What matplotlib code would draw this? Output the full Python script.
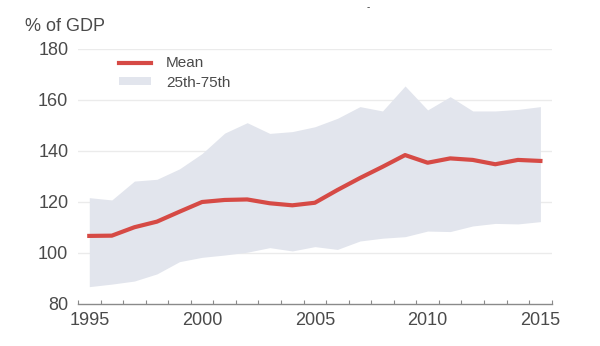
import matplotlib as mpl
import matplotlib.pyplot as plt
from matplotlib.patches import Patch
from matplotlib.lines import Line2D

mpl.rcParams['font.family'] = ['Liberation Sans', 'DejaVu Sans']

years = list(range(1995, 2016))
mean = [106.7, 106.8, 110.1, 112.3, 116.2, 120.0, 120.8, 121.0, 119.5, 118.7,
        119.7, 124.7, 129.4, 133.8, 138.4, 135.4, 137.1, 136.5, 134.8, 136.5, 136.1]
p75 = [121.7, 120.8, 128.2, 128.9, 133.0, 139.0, 147.0, 151.1, 146.9, 147.6,
       149.5, 152.8, 157.4, 155.7, 165.5, 156.1, 161.3, 155.7, 155.7, 156.3, 157.4]
p25 = [86.8, 87.8, 89.0, 91.8, 96.6, 98.3, 99.2, 100.3, 102.1, 100.8,
       102.5, 101.4, 104.7, 105.8, 106.4, 108.6, 108.4, 110.6, 111.6, 111.4, 112.3]
xticks = [1995, 2000, 2005, 2010, 2015]
yticks = [80, 100, 120, 140, 160, 180]

red = '#d64a45'
band = '#e2e5ed'
txt = '#4a4a4a'

fig = plt.figure(figsize=(6, 3.46), dpi=100)
ax = fig.add_axes([0.13, 0.1214, 0.7895, 0.737])

ax.fill_between(years, p25, p75, color=band, linewidth=0, zorder=1)
ax.plot(years, mean, color=red, linewidth=3, solid_joinstyle='round', zorder=3)

ax.set_xlim(1994.5, 2015.5)
ax.set_ylim(80, 180)
ax.set_xticks(xticks)
ax.set_xticks([y + 0.5 for y in range(1994, 2016)], minor=True)
ax.set_yticks(yticks)

for g in yticks[1:]:
    ax.axhline(g, color='#ebebeb', linewidth=1, zorder=0)

for s in ['top', 'right', 'left']:
    ax.spines[s].set_visible(False)
ax.spines['bottom'].set_color('#8a8a8a')
ax.spines['bottom'].set_linewidth(1)

ax.tick_params(axis='x', which='major', length=0, pad=6, labelsize=13, labelcolor=txt)
ax.tick_params(axis='x', which='minor', direction='in', length=3, width=0.8, color='#8a8a8a')
ax.tick_params(axis='y', length=0, pad=7, labelsize=13, labelcolor=txt)

fig.text(25 / 600, 1 - 26.7 / 346, '% of GDP', fontsize=13, color=txt, va='center')
fig.text(368 / 600, 1 - 7 / 346, '-', fontsize=7, color='#333333', ha='center', va='center')

handles = [Line2D([], [], color=red, linewidth=3),
           Patch(facecolor=band, edgecolor='none')]
leg = ax.legend(handles, ['Mean', '25th-75th'], loc='upper left',
                bbox_to_anchor=(0.057, 1.0255), frameon=False, fontsize=11,
                handlelength=2.1, handleheight=0.4, labelspacing=0.35,
                handletextpad=1.0)
for t in leg.get_texts():
    t.set_color(txt)

fig.savefig('out.png', dpi=100)
